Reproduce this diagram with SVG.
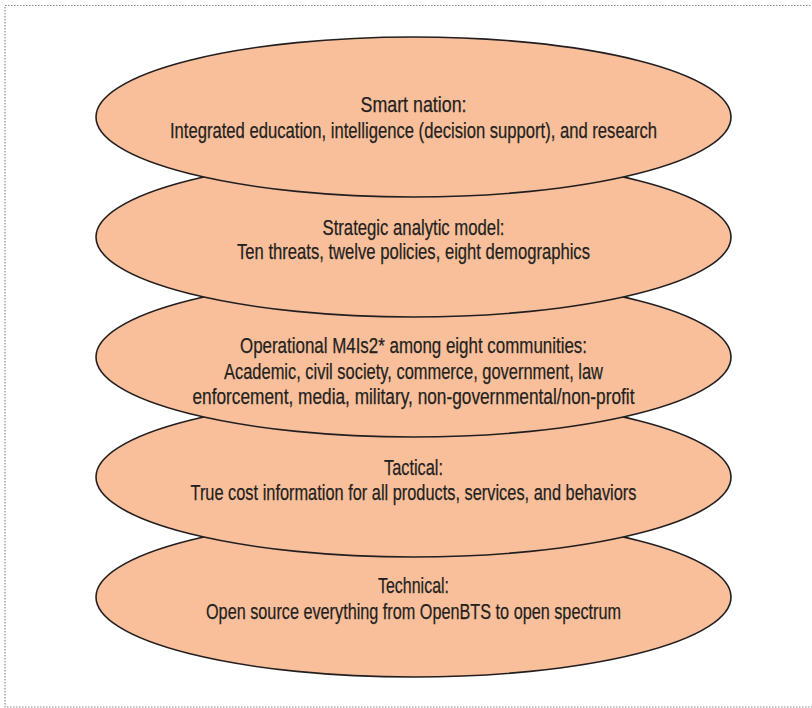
<svg xmlns="http://www.w3.org/2000/svg" width="812" height="708" viewBox="0 0 812 708">
  <style>
    .frame { fill: none; stroke: #8a8a8a; stroke-width: 1.2; stroke-dasharray: 1.5 1.5; }
    .layer { fill: #F9BF9B; stroke: #231F20; stroke-width: 1.6; }
    .label { font-family: "Liberation Sans", Arial, sans-serif; font-size: 21.5px; fill: #231F20; stroke: #231F20; stroke-width: 0.25; text-anchor: middle; }
  </style>
  <rect width="812" height="708" fill="#ffffff"/>
  <rect class="frame" x="5" y="5.5" width="830" height="701.5"/>

  <!-- Layers are painted bottom-up so each upper layer overlaps the one below -->
  <g id="technical">
    <ellipse class="layer" cx="413.5" cy="597" rx="317.5" ry="80"/>
    <text class="label" x="413.5" y="593" textLength="71" lengthAdjust="spacingAndGlyphs">Technical:</text>
    <text class="label" x="413.5" y="619" textLength="415" lengthAdjust="spacingAndGlyphs">Open source everything from OpenBTS to open spectrum</text>
  </g>
  <g id="tactical">
    <ellipse class="layer" cx="413.5" cy="477" rx="317.5" ry="80"/>
    <text class="label" x="413.5" y="475" textLength="59" lengthAdjust="spacingAndGlyphs">Tactical:</text>
    <text class="label" x="413.5" y="500" textLength="446" lengthAdjust="spacingAndGlyphs">True cost information for all products, services, and behaviors</text>
  </g>
  <g id="operational">
    <ellipse class="layer" cx="413.5" cy="357" rx="317.5" ry="80"/>
    <text class="label" x="413.5" y="353" textLength="347" lengthAdjust="spacingAndGlyphs">Operational M4Is2* among eight communities:</text>
    <text class="label" x="413.5" y="378.5" textLength="379" lengthAdjust="spacingAndGlyphs">Academic, civil society, commerce, government, law</text>
    <text class="label" x="413.5" y="404" textLength="442" lengthAdjust="spacingAndGlyphs">enforcement, media, military, non-governmental/non-profit</text>
  </g>
  <g id="strategic">
    <ellipse class="layer" cx="413.5" cy="237" rx="317.5" ry="80"/>
    <text class="label" x="413.5" y="235" textLength="182" lengthAdjust="spacingAndGlyphs">Strategic analytic model:</text>
    <text class="label" x="413.5" y="259" textLength="353" lengthAdjust="spacingAndGlyphs">Ten threats, twelve policies, eight demographics</text>
  </g>
  <g id="smart-nation">
    <ellipse class="layer" cx="413.5" cy="117" rx="317.5" ry="80"/>
    <text class="label" x="413.5" y="112" textLength="106" lengthAdjust="spacingAndGlyphs">Smart nation:</text>
    <text class="label" x="413.5" y="138" textLength="487" lengthAdjust="spacingAndGlyphs">Integrated education, intelligence (decision support), and research</text>
  </g>
  <g id="connectors"/>
</svg>
